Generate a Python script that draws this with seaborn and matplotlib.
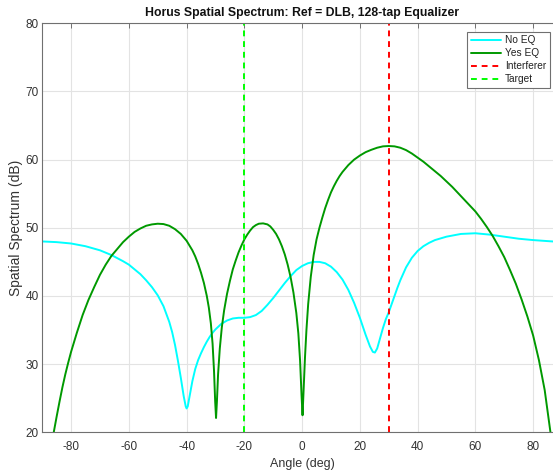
import matplotlib
matplotlib.use("Agg")
import matplotlib.pyplot as plt
import seaborn as sns
import pandas as pd

# Spatial spectrum without equalization (angle in deg, level in dB)
no_eq_angle = [-90, -85, -80, -75, -70, -66, -62, -60, -58, -56, -54, -52,
               -50, -48, -46, -45, -44, -43, -42, -41, -40.3, -40, -39.6, -39,
               -38, -37, -36, -35, -34, -33, -32, -31, -30, -28, -26, -24, -22,
               -20, -18, -16, -14, -12, -10, -8, -6, -4, -2, 0, 2, 4, 6, 8, 10,
               12, 14, 16, 18, 20, 22, 23.5, 24.5, 25.2, 26, 27, 28, 29, 30,
               31, 32, 33, 34, 36, 38, 40, 42, 44, 46, 50, 55, 60, 65, 70, 75,
               80, 85, 90]
no_eq_db = [48.0, 47.9, 47.7, 47.3, 46.7, 46.0, 45.1, 44.6, 43.9, 43.2, 42.3,
            41.3, 40.1, 38.5, 36.2, 34.7, 32.8, 30.5, 28.0, 25.3, 23.8, 23.5,
            23.8, 25.2, 27.5, 29.3, 30.6, 31.6, 32.5, 33.3, 34.0, 34.6, 35.1,
            35.9, 36.4, 36.7, 36.8, 36.8, 36.9, 37.2, 37.8, 38.7, 39.7, 40.8,
            41.9, 42.9, 43.8, 44.4, 44.8, 45.0, 45.0, 44.8, 44.3, 43.5, 42.4,
            40.9, 39.0, 36.8, 34.3, 32.6, 31.8, 31.7, 32.3, 33.8, 35.3, 36.6,
            37.6, 38.8, 40.0, 41.2, 42.3, 44.2, 45.6, 46.6, 47.3, 47.8, 48.2,
            48.7, 49.1, 49.2, 49.0, 48.7, 48.4, 48.2, 48.05, 47.9]

# Spatial spectrum with the 128-tap equalizer
yes_eq_angle = [-86, -85, -84, -83, -82, -81, -80, -78, -76, -74, -72, -70,
                -68, -66, -64, -62, -60, -58, -56, -54, -52, -50, -48, -46,
                -44, -42, -40, -38, -37, -36, -35, -34, -33, -32.3, -31.6,
                -31, -30.5, -30.1, -29.8, -29.5, -29.1, -28.5, -27.8, -27,
                -26, -25, -24, -23, -22, -21, -20, -19, -18, -17, -16, -15,
                -13.5, -12, -11, -10, -9, -8, -7, -6, -5, -4, -3, -2, -1.3,
                -0.7, -0.2, 0.15, 0.5, 1, 1.5, 2.1, 3, 4, 5, 6, 7, 8, 9, 10,
                11, 12, 13, 14, 15, 16, 18, 20, 22, 24, 26, 28, 30, 32, 34, 36,
                38, 40, 42, 44, 46, 48, 50, 52, 54, 56, 58, 60, 62, 64, 66, 68,
                70, 72, 74, 76, 78, 80, 82, 84, 86]
yes_eq_db = [20.0, 22.3, 24.5, 26.6, 28.5, 30.2, 31.8, 34.6, 37.2, 39.4, 41.3,
             43.1, 44.6, 45.9, 46.9, 47.9, 48.7, 49.4, 49.9, 50.3, 50.5, 50.6,
             50.55, 50.3, 49.8, 49.1, 48.1, 46.7, 45.8, 44.7, 43.4, 41.9, 40.0,
             38.3, 36.0, 33.0, 29.0, 24.5, 22.1, 24.5, 28.5, 32.3, 35.4, 37.9,
             40.3, 42.2, 43.9, 45.2, 46.4, 47.4, 48.3, 49.0, 49.6, 50.1, 50.4,
             50.6, 50.65, 50.5, 50.2, 49.7, 49.1, 48.3, 47.3, 46.1, 44.6, 42.8,
             40.5, 37.5, 34.5, 30.5, 25.5, 22.5, 26.0, 31.0, 35.0, 38.8, 42.8,
             46.0, 48.3, 50.0, 51.5, 52.9, 54.1, 55.2, 56.1, 56.9, 57.6, 58.2,
             58.7, 59.2, 60.0, 60.6, 61.1, 61.45, 61.75, 61.95, 62.0, 61.95,
             61.75, 61.4, 60.9, 60.3, 59.7, 59.0, 58.3, 57.6, 56.8, 56.0, 55.1,
             54.2, 53.3, 52.4, 51.3, 50.1, 48.8, 47.3, 45.7, 43.8, 41.8, 39.5,
             37.0, 34.2, 30.6, 26.2, 20.0]

interferer_angle = 30
target_angle = -20

x_ticks = [-80, -60, -40, -20, 0, 20, 40, 60, 80]
y_ticks = [20, 30, 40, 50, 60, 70, 80]

sns.set_theme(style="white")
plt.rcParams["font.family"] = ["Liberation Sans", "DejaVu Sans"]
plt.rcParams["axes.unicode_minus"] = False

fig = plt.figure(figsize=(5.53, 4.72), dpi=100)
ax = fig.add_axes([0.0763, 0.0841, 0.940, 0.8665])

df_no = pd.DataFrame({"angle": no_eq_angle, "db": no_eq_db})
df_yes = pd.DataFrame({"angle": yes_eq_angle, "db": yes_eq_db})

sns.lineplot(data=df_no, x="angle", y="db", ax=ax, color="#00ffff",
             linewidth=1.4, label="No EQ")
sns.lineplot(data=df_yes, x="angle", y="db", ax=ax, color="#009900",
             linewidth=1.4, label="Yes EQ")
ax.axvline(interferer_angle, color="#ff0000", linestyle=(0, (3, 2.5)),
           linewidth=1.4, label="Interferer")
ax.axvline(target_angle, color="#00ff00", linestyle=(0, (3, 2.5)),
           linewidth=1.4, label="Target")

ax.set_xlim(-90, 90)
ax.set_ylim(20, 80)
ax.set_xticks(x_ticks)
ax.set_yticks(y_ticks)
ax.grid(True, color="#e3e3e3", linewidth=0.8)
ax.set_axisbelow(True)

for s in ax.spines.values():
    s.set_color("#707070")
    s.set_linewidth(0.8)
ax.tick_params(direction="in", length=3.5, width=0.7, color="#707070",
               labelsize=8.5, labelcolor="#333333", top=True, right=True)
ax.tick_params(axis="x", pad=6)
ax.tick_params(axis="y", pad=2.5)

ax.set_xlabel("Angle (deg)", fontsize=9, color="#333333", labelpad=4)
ax.set_ylabel("Spatial Spectrum (dB)", fontsize=10, color="#333333",
              labelpad=2)
ax.set_title("Horus Spatial Spectrum: Ref = DLB, 128-tap Equalizer",
             fontsize=8.8, fontweight="bold", color="#111111", pad=5)

leg = ax.legend(loc="upper right", bbox_to_anchor=(550 / 553, 1 - 31.7 / 472),
                bbox_transform=fig.transFigure, borderaxespad=0,
                fontsize=7.3, frameon=True, fancybox=False, framealpha=1,
                edgecolor="#707070", handlelength=3.0, handletextpad=0.4,
                labelspacing=0.3, borderpad=0.35)
leg.get_frame().set_linewidth(0.8)
for t in leg.get_texts():
    t.set_color("#222222")

fig.savefig("out.png", dpi=100)
